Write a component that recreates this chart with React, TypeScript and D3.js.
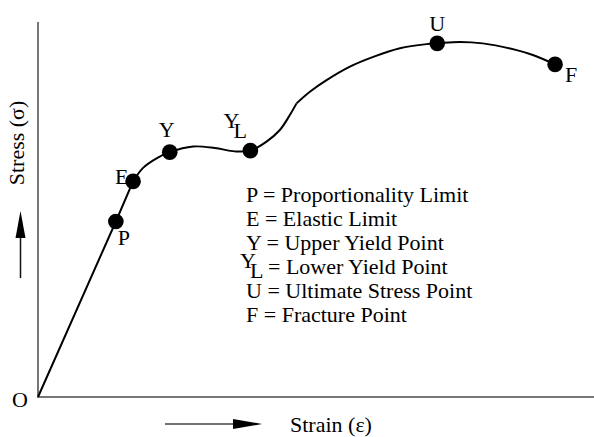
import React from "react";
import * as d3 from "d3";

// ---- data (strain / stress in arbitrary units 0..100) ----
const curveStrain = [0, 14.0, 17.1, 18.9, 21.4, 23.7, 27.9, 31.8, 35.4, 38.2, 41.1, 43.5, 45.3, 46.5, 48.9, 51.9, 56.1, 60.3, 65.1, 69.9, 71.8, 75.9, 80.0, 86.1, 89.0, 93.0];
const curveStress = [0, 46.8, 57.5, 61.1, 63.7, 65.3, 66.8, 66.4, 65.5, 65.7, 68.1, 71.2, 75.2, 78.3, 81.4, 84.5, 88.1, 90.7, 93.0, 94.1, 94.3, 94.7, 94.3, 92.5, 91.2, 88.7];
const segmentBreaks = [2, 13];
const markerNames = ["P", "E", "Y", "YL", "U", "F"];
const markerIndex = [1, 2, 5, 9, 20, 25];
const legendKeys = ["P", "E", "Y", "YL", "U", "F"];
const legendTexts = ["Proportionality Limit", "Elastic Limit", "Upper Yield Point", "Lower Yield Point", "Ultimate Stress Point", "Fracture Point"];
const xLabel = "Strain (ε)";
const yLabel = "Stress (σ)";
const originLabel = "O";

const W = 594;
const H = 437;
const FONT = "'Liberation Serif', 'Times New Roman', serif";
const FS = 22;

// label placement (pixels relative to marker)
const labelOffsets: Record<string, [number, number, string]> = {
  P: [2, 23, "start"],
  E: [-18, 2.5, "start"],
  Y: [-3, -15, "middle"],
  YL: [-27, -23, "start"],
  U: [0, -12, "middle"],
  F: [10, 17.5, "start"],
};

export default function App() {
  const x = d3.scaleLinear().domain([0, 100]).range([38, 594]);
  const y = d3.scaleLinear().domain([0, 100]).range([397, 22]);

  const pts = curveStrain.map((s, i) => [x(s), y(curveStress[i])] as [number, number]);
  const seg1 = pts.slice(0, segmentBreaks[0] + 1);
  const seg2 = pts.slice(segmentBreaks[0], segmentBreaks[1] + 1);
  const seg3 = pts.slice(segmentBreaks[1]);
  const lin = d3.line().curve(d3.curveLinear);
  const smooth = d3.line().curve(d3.curveCatmullRom.alpha(0.5));

  const x0 = x(0);
  const y0 = y(0);

  const legendX = 246;
  const legendY0 = 201.5;
  const legendDy = 24;

  return (
    <svg width={W} height={H} style={{ position: "absolute", left: 0, top: 0, background: "#fff" }}
      fontFamily={FONT} fontSize={FS}>
      <rect x={0} y={0} width={W} height={H} fill="#fff" />
      {/* axes */}
      <line x1={x0} y1={y(100)} x2={x0} y2={y0 + 1} stroke="#777" strokeWidth={2} />
      <line x1={x0} y1={y0} x2={W} y2={y0} stroke="#777" strokeWidth={2} />
      <text x={12} y={407}>{originLabel}</text>

      {/* curve */}
      <path d={lin(seg1) || ""} fill="none" stroke="#000" strokeWidth={2} />
      <path d={smooth(seg2) || ""} fill="none" stroke="#000" strokeWidth={2} />
      <path d={smooth(seg3) || ""} fill="none" stroke="#000" strokeWidth={2} />

      {/* markers */}
      {markerIndex.map((idx, i) => {
        const [cx, cy] = pts[idx];
        const name = markerNames[i];
        const [dx, dy, anchor] = labelOffsets[name];
        return (
          <g key={name}>
            <circle cx={cx} cy={cy} r={7.8} fill="#000" />
            {name === "YL" ? (
              <text x={cx + dx} y={cy + dy}>
                Y<tspan x={cx + dx + 10} dy={10}>L</tspan>
              </text>
            ) : (
              <text x={cx + dx} y={cy + dy} textAnchor={anchor}>{name}</text>
            )}
          </g>
        );
      })}

      {/* legend */}
      {legendKeys.map((k, i) => {
        const by = legendY0 + i * legendDy;
        if (k === "YL") {
          return (
            <text key={k} y={by}>
              <tspan x={legendX - 6} dy={-6}>Y</tspan>
              <tspan x={legendX + 4} dy={10}>L</tspan>
              <tspan x={legendX + 22} dy={-4}>{"= " + legendTexts[i]}</tspan>
            </text>
          );
        }
        return (
          <text key={k} x={legendX} y={by}>{k + " = " + legendTexts[i]}</text>
        );
      })}

      {/* axis titles with arrows */}
      <text transform={`translate(24,143) rotate(-90)`} textAnchor="middle">{yLabel}</text>
      <line x1={20.5} y1={278} x2={20.5} y2={236} stroke="#111" strokeWidth={1.5} />
      <path d={`M20.5,211 L25.5,238 L15.5,238 Z`} fill="#000" />

      <text x={290} y={432}>{xLabel}</text>
      <line x1={165} y1={424} x2={235} y2={424} stroke="#444" strokeWidth={1.5} />
      <path d={`M262,424 L233,419 L233,429 Z`} fill="#000" />
    </svg>
  );
}
